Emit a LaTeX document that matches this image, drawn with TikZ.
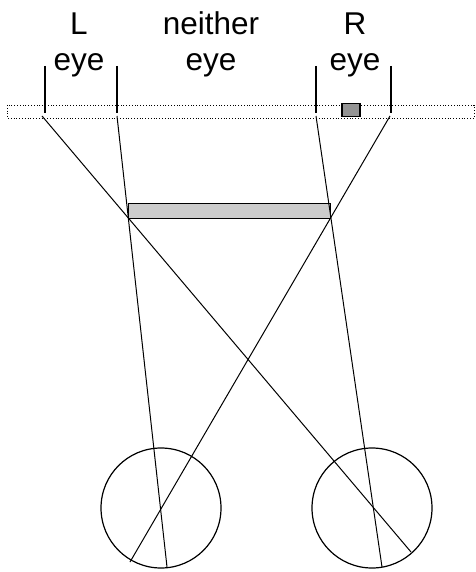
\documentclass[tikz,border=0pt]{standalone}
\usepackage{fontspec}
\setmainfont{Liberation Sans}
\usetikzlibrary{positioning,calc}
\tikzset{>=latex}
\tikzset{
	eyelabel/.style={align=center,anchor=base,inner sep=0pt,font=\fontsize{31.5}{36}\selectfont},
	tick/.style={line width=1.3pt},
	ray/.style={line width=1pt},
	eyeball/.style={draw,circle,line width=1.2pt,minimum size=120pt,inner sep=0pt}
}
\begin{document}
\begin{tikzpicture}[x=1pt,y=-1pt]
	\useasboundingbox (0,0) rectangle (475,572);
	% screen strip and the small target
	\draw[dotted,line width=0.8pt,fill=white] (7,105) rectangle (474,118);
	\node[draw,line width=1.2pt,fill=black!42,minimum width=18pt,minimum height=13pt,inner sep=0pt] (target) at (351,110) {};
	% labels
	\node[eyelabel] (lbl) at (79,71) {L\\eye};
	\node[eyelabel] (nbl) at (211,71) {neither\\eye};
	\node[eyelabel] (rbl) at (355,71) {R\\eye};
	% ticks
	\foreach \x/\n in {45/a,117/b,316/c,391/d}{
		\coordinate (t\n) at (\x,66);
		\coordinate (b\n) at (\x,113);
		\draw[tick] (t\n) -- (b\n);
	}
	% the bar
	\node[draw,line width=1.2pt,fill=black!20,minimum width=202pt,minimum height=15pt,inner sep=0pt,anchor=south west] (bar) at (128,219) {};
	% eyes
	\node[eyeball] (leye) at (161,508) {};
	\node[eyeball] (reye) at (372,508) {};
	% rays
	\coordinate (s1) at (42,116);   \coordinate (e1) at (411,552);
	\coordinate (s2) at (117,116);  \coordinate (e2) at (167,567);
	\coordinate (s3) at (316,116);  \coordinate (e3) at (382,567);
	\coordinate (s4) at (390,116);  \coordinate (e4) at (130,562);
	\foreach \i in {1,2,3,4}
		\draw[ray] (s\i) -- (e\i);
\end{tikzpicture}
\end{document}
